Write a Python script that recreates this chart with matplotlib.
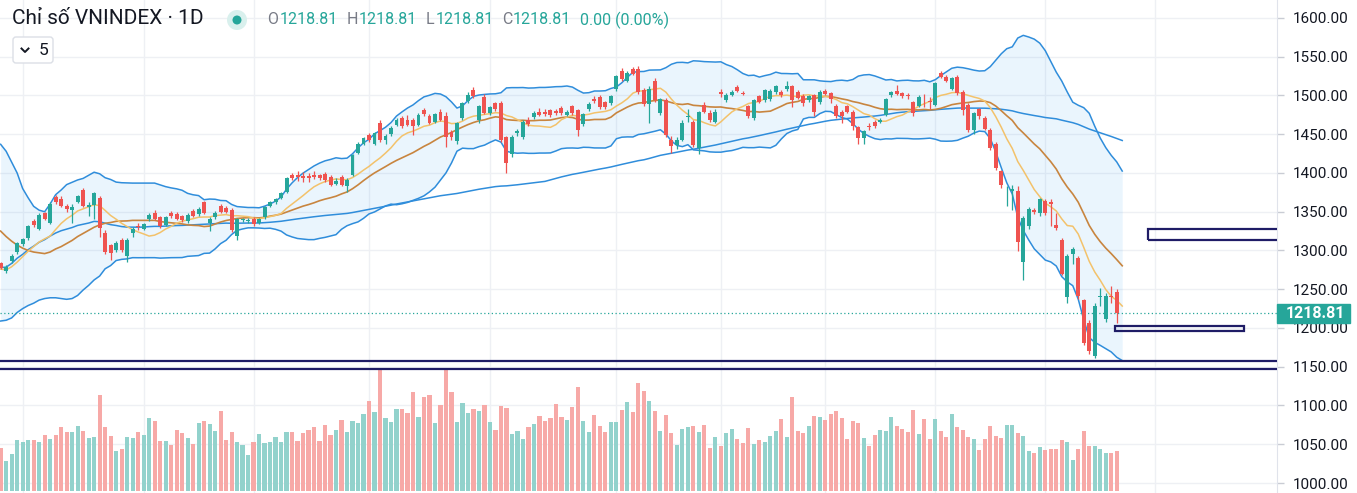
import numpy as np
import pandas as pd
import matplotlib
matplotlib.use("Agg")
import matplotlib.pyplot as plt
from matplotlib.patches import Rectangle, FancyBboxPatch, Circle
from matplotlib.lines import Line2D
from matplotlib.transforms import blended_transform_factory, IdentityTransform

plt.rcParams['font.family'] = ['Roboto', 'DejaVu Sans']

# ---------------- data (daily OHLC, index = trading day) ----------------
opens = [1284, 1273, 1286, 1298, 1308, 1316, 1338, 1328, 1348, 1336,
         1369, 1367, 1357, 1352, 1363, 1378, 1356, 1359, 1368, 1323,
         1307, 1301, 1314, 1293, 1322, 1332, 1328, 1340, 1348, 1343,
         1333, 1349, 1347, 1344, 1338, 1351, 1347, 1362, 1336, 1343,
         1358, 1355, 1352, 1319, 1339, 1338, 1340, 1336, 1343, 1358,
         1362, 1368, 1376, 1397, 1397, 1396, 1396, 1397, 1397, 1399,
         1395, 1386, 1395, 1383, 1398, 1426, 1438, 1449, 1438, 1464,
         1442, 1450, 1462, 1471, 1469, 1468, 1462, 1481, 1474, 1466,
         1479, 1474, 1453, 1441, 1471, 1493, 1507, 1468, 1498, 1477,
         1490, 1490, 1446, 1425, 1452, 1446, 1469, 1472, 1479, 1479,
         1481, 1480, 1484, 1475, 1486, 1481, 1463, 1482, 1495, 1498,
         1491, 1490, 1508, 1532, 1519, 1534, 1534, 1507, 1489, 1519,
         1477, 1494, 1443, 1436, 1443, 1472, 1466, 1432, 1488, 1478,
         1466, 1504, 1494, 1501, 1511, 1503.5, 1486, 1471, 1499, 1494,
         1495, 1504, 1505, 1508, 1512, 1505, 1499, 1494, 1500, 1491,
         1506, 1503, 1487, 1479, 1486, 1479, 1459, 1445, 1460, 1466,
         1466, 1475, 1500, 1506, 1503, 1500, 1491, 1487, 1492, 1493,
         1488, 1529, 1524, 1509, 1524, 1505, 1488, 1456, 1482, 1471,
         1456, 1438, 1402, 1371, 1377, 1377, 1285, 1331, 1352, 1348,
         1364, 1362, 1333, 1314, 1240, 1296, 1290, 1236, 1207, 1164,
         1240, 1211, 1241.5, 1247, 1218.81]
highs = [1285, 1281, 1295, 1311, 1316, 1333, 1341, 1348, 1350, 1362,
         1372, 1370, 1360, 1360, 1372, 1381, 1363, 1376, 1370, 1326,
         1309, 1312, 1316, 1316, 1330, 1336, 1336, 1348, 1352, 1345,
         1345, 1351, 1350, 1346, 1348, 1354, 1356, 1364, 1343, 1351,
         1360, 1357, 1355, 1342, 1342, 1342, 1343, 1342, 1358, 1364,
         1368, 1376, 1395, 1400, 1403, 1401, 1400, 1403, 1399, 1401,
         1398, 1393, 1397, 1393, 1425, 1440, 1447, 1452, 1453, 1468,
         1450, 1460, 1471, 1474, 1475, 1471, 1477, 1484, 1476, 1478,
         1482, 1479, 1455, 1466, 1492, 1504, 1511, 1488, 1502, 1487,
         1492, 1493, 1448, 1449, 1457, 1468, 1472, 1480, 1484, 1482,
         1483, 1483, 1486, 1481, 1488, 1483, 1478, 1491, 1499, 1500,
         1493, 1501, 1527, 1535, 1531, 1537, 1538, 1510, 1512, 1523,
         1497, 1497, 1448, 1446, 1468, 1482, 1468, 1480, 1492, 1481,
         1482, 1508, 1503, 1507, 1513, 1506, 1488, 1496, 1501, 1509,
         1508, 1514, 1507, 1519, 1514, 1507, 1502, 1501, 1502, 1507,
         1509, 1505, 1489, 1481, 1488, 1481, 1461, 1456, 1464, 1468,
         1471, 1497, 1506, 1514, 1505, 1503, 1493, 1500, 1502, 1498,
         1518, 1532, 1526, 1524, 1526, 1507, 1490, 1479, 1484, 1473,
         1458, 1440, 1404, 1383, 1385, 1383, 1345, 1356, 1355, 1368,
         1366, 1366, 1348, 1316, 1296, 1305, 1293, 1238, 1210, 1232,
         1251, 1245, 1254, 1250, 1218.81]
lows = [1276, 1271, 1284, 1296, 1306, 1314, 1330, 1326, 1339, 1334,
        1360, 1356, 1350, 1336, 1361, 1356, 1345, 1340, 1318, 1295,
        1288, 1298, 1298, 1285, 1318, 1326, 1326, 1338, 1339, 1329,
        1331, 1342, 1339, 1337, 1336, 1343, 1345, 1347, 1325, 1341,
        1348, 1348, 1324, 1313, 1337, 1335, 1332, 1334, 1341, 1356,
        1360, 1366, 1374, 1391, 1390, 1389, 1388, 1392, 1391, 1389,
        1383, 1384, 1383, 1375, 1396, 1424, 1436, 1440, 1436, 1440,
        1438, 1448, 1460, 1458, 1460, 1449, 1460, 1474, 1463, 1464,
        1467, 1434, 1443, 1437, 1469, 1490, 1497, 1465, 1476, 1475,
        1480, 1440, 1400, 1420, 1448, 1444, 1460, 1470, 1473, 1473,
        1472, 1475, 1475, 1473, 1475, 1448, 1460, 1480, 1490, 1483,
        1483, 1488, 1506, 1519, 1517, 1526, 1502, 1487, 1464, 1492,
        1475, 1446, 1426, 1431, 1441, 1466, 1434, 1425, 1477, 1466,
        1464, 1498, 1492, 1499, 1504, 1500, 1471, 1469, 1490, 1492,
        1493, 1502, 1498, 1506, 1485, 1495, 1487, 1492, 1474, 1489,
        1500, 1490, 1471, 1465, 1477, 1455, 1438, 1438, 1455, 1458,
        1464, 1473, 1498, 1500, 1497, 1496, 1473, 1485, 1485, 1483,
        1486, 1522, 1517, 1507, 1500, 1475, 1453, 1450, 1470, 1455,
        1430, 1404, 1381, 1357, 1352, 1299, 1262, 1328, 1347, 1345,
        1346, 1331, 1326, 1268, 1232, 1283, 1238, 1178, 1166, 1161,
        1228, 1208, 1232, 1207, 1218.81]
closes = [1278, 1279, 1293, 1310, 1315, 1331, 1333, 1346, 1341, 1360,
          1362, 1358, 1353, 1356, 1370, 1358, 1359, 1374, 1329, 1298,
          1297, 1310, 1300, 1314, 1328, 1330, 1334, 1346, 1341, 1331,
          1343, 1344, 1341, 1339, 1346, 1345, 1353, 1349, 1341, 1349,
          1350, 1350, 1326, 1340, 1340, 1339, 1334, 1340, 1356, 1362,
          1366, 1374, 1393, 1394, 1395, 1394, 1393, 1395, 1394, 1391,
          1385, 1390, 1385, 1391, 1423, 1438, 1445, 1443, 1451, 1443,
          1448, 1458, 1469, 1460, 1462, 1461, 1475, 1476, 1465, 1476,
          1469, 1447, 1446, 1464, 1490, 1501, 1499, 1486, 1478, 1485,
          1482, 1443, 1413, 1446, 1454, 1466, 1463, 1478, 1475, 1476,
          1475, 1478, 1477, 1479, 1477, 1456, 1476, 1489, 1493, 1485,
          1485, 1499, 1525, 1521, 1529, 1528, 1504, 1489, 1509, 1494,
          1495, 1449, 1435, 1443, 1464, 1474, 1436, 1479, 1479, 1469,
          1479, 1502, 1501, 1505, 1506, 1502.5, 1473, 1494, 1492, 1507,
          1506, 1512, 1500, 1512, 1494, 1497, 1490, 1499, 1479, 1505,
          1502, 1495, 1474, 1473, 1479, 1460, 1445, 1454, 1459, 1460,
          1469, 1495, 1504, 1502, 1499, 1499, 1477, 1498, 1491, 1491,
          1516, 1524, 1519, 1522, 1503, 1481, 1456, 1477, 1473, 1457,
          1432, 1406, 1384, 1372, 1379, 1311, 1342, 1353, 1350, 1366,
          1348, 1360, 1329, 1270, 1293, 1302, 1241, 1181, 1170, 1229,
          1241, 1241, 1240.5, 1218.81, 1218.81]
volumes = [427, 300, 367, 510, 483, 510, 510, 483, 560, 517,
           560, 633, 590, 590, 650, 600, 527, 540, 960, 633,
           550, 400, 413, 540, 527, 583, 560, 727, 700, 493,
           493, 460, 610, 573, 527, 467, 673, 700, 667, 600,
           793, 510, 590, 483, 460, 357, 490, 567, 473, 490,
           540, 490, 590, 583, 500, 573, 610, 633, 500, 660,
           560, 610, 707, 583, 700, 680, 767, 893, 787, 1207,
           727, 690, 817, 817, 777, 990, 740, 940, 953, 680,
           860, 1217, 990, 690, 880, 777, 817, 800, 860, 690,
           610, 850, 830, 567, 600, 520, 640, 667, 750, 700,
           727, 867, 740, 707, 840, 1033, 700, 590, 760, 650,
           590, 690, 690, 810, 890, 783, 1080, 1000, 900, 800,
           600, 760, 573, 460, 617, 640, 650, 583, 660, 427,
           537, 450, 573, 617, 520, 473, 623, 467, 510, 483,
           543, 600, 717, 537, 933, 600, 573, 650, 750, 740,
           707, 767, 800, 727, 517, 700, 673, 527, 450, 560,
           610, 593, 740, 650, 617, 590, 810, 567, 720, 517,
           720, 600, 540, 770, 633, 607, 540, 517, 410, 517,
           650, 550, 530, 660, 657, 573, 550, 400, 377, 433,
           410, 417, 417, 510, 490, 310, 417, 600, 450, 450,
           417, 377, 377, 400, 0]

# indicator values at the left edge (before enough history)
ma10_head = [1276, 1275, 1279, 1285, 1292, 1299, 1305, 1311, 1315]
ma20_head = [1325, 1318, 1312, 1307, 1303, 1300, 1298, 1297, 1296, 1298,
             1302, 1305, 1309, 1313, 1318, 1322, 1326, 1330, 1333]
bb_up_head = [1437, 1428, 1414, 1400, 1380, 1368, 1357, 1352, 1350, 1360,
              1372, 1378, 1385, 1388, 1391, 1393, 1397, 1401, 1399]
bb_lo_head = [1209, 1210, 1213, 1220, 1225, 1229, 1232, 1236, 1238, 1239,
              1239, 1238, 1237, 1238, 1242, 1249, 1255, 1262, 1267]

price_ticks = [1000, 1050, 1100, 1150, 1200, 1250, 1300, 1350,
               1400, 1450, 1500, 1550, 1600]
month_start_idx = [4, 26, 46, 67, 89, 112, 131, 150, 170, 190, 210]
support_lines = [1157.2, 1147.6]
zone_a = [208.7, 1314.0, 1327.5]          # left index, bottom, top (open right)
zone_b = [202.7, 226.1, 1195.5, 1203.2]   # left, right, bottom, top
last_price = 1218.81

# ---------------- styling ----------------
GREEN = '#26a69a'
RED = '#ef5350'
VGREEN = '#92d2cc'
VRED = '#f7a9a7'
BLUE = '#2f8ddb'
BROWN = '#c8853f'
YELLOW = '#f3c26b'
NAVY = '#1f1c66'
GRID = '#eef0f4'
TEXT = '#131722'

o = np.array(opens, float); h = np.array(highs, float)
l = np.array(lows, float); c = np.array(closes, float)
v = np.array(volumes, float)
N = len(c)
x = np.arange(N)

cs = pd.Series(c)
ma10 = cs.rolling(10).mean().to_numpy()
ma10[:len(ma10_head)] = ma10_head
ma20 = cs.rolling(20).mean().to_numpy()
sd20 = cs.rolling(20).std(ddof=0).to_numpy()
bb_up = ma20 + 2 * sd20
bb_lo = ma20 - 2 * sd20
ma20[:len(ma20_head)] = ma20_head
bb_up[:len(bb_up_head)] = bb_up_head
bb_lo[:len(bb_lo_head)] = bb_lo_head
ma100 = cs.rolling(100, min_periods=1).mean().to_numpy()

W, H = 1357, 493
fig = plt.figure(figsize=(W / 100, H / 100), dpi=100)
fig.patch.set_facecolor('white')
PR = 1277
ax = fig.add_axes([0, 0, PR / W, 1])
ax.set_xlim(-0.118, 232.15)
ax.set_ylim(987.1, 1623.2)

# volume (overlay axis, drawn underneath the price layer) + grid
axv = ax.twinx()
axv.set_ylim(-25, 4905)
axv.set_yticks([])
for s in axv.spines.values():
    s.set_visible(False)
ax.set_zorder(2)
axv.set_zorder(1)
ax.patch.set_visible(False)
axv.patch.set_visible(True)
axv.patch.set_facecolor('white')
gtr = blended_transform_factory(axv.transAxes, ax.transData)
for t in price_ticks:
    axv.add_line(Line2D([0, 1], [t, t], transform=gtr, color=GRID, lw=1.0,
                        zorder=0))
for m in month_start_idx:
    axv.axvline(m, color=GRID, lw=1.0, zorder=0)
axv.bar(x, v, width=0.75, color=np.where(c >= o, VGREEN, VRED), lw=0, zorder=1)

# right price scale
ax.set_yticks(price_ticks)
ax.set_yticklabels([f'{t:.2f}' for t in price_ticks])
ax.set_xticks([])
ax.yaxis.tick_right()
ax.yaxis.set_label_position('right')
ax.tick_params(axis='y', left=False, labelleft=False, right=True, labelright=True,
               length=5, width=1, color='#c9ccd4', labelcolor=TEXT,
               labelsize=11, pad=6)
for s in ['top', 'left', 'bottom']:
    ax.spines[s].set_visible(False)
ax.spines['right'].set_color('#e0e3eb')

# Bollinger band + MAs
ax.fill_between(x, bb_lo, bb_up, color='#2196f3', alpha=0.09, lw=0, zorder=1)
ax.plot(x, bb_up, color=BLUE, lw=1.1, zorder=2)
ax.plot(x, bb_lo, color=BLUE, lw=1.1, zorder=2)
ax.plot(x, ma100, color=BLUE, lw=1.1, zorder=2)
ax.plot(x, ma20, color=BROWN, lw=1.2, zorder=2)
ax.plot(x, ma10, color=YELLOW, lw=1.1, zorder=2)

# candles
up = c >= o
col = np.where(up, GREEN, RED)
ax.vlines(x, l, h, colors=col, lw=0.9, zorder=4)
body_bot = np.minimum(o, c)
body_h = np.maximum(np.abs(c - o), 1.0)
ax.bar(x, body_h, bottom=body_bot, width=0.72, color=col, lw=0, zorder=5)

# last price dotted line
ax.axhline(last_price, color=GREEN, lw=0.9, ls=(0, (1, 2)), zorder=3)

# support lines and zones
for p in support_lines:
    ax.axhline(p, color=NAVY, lw=1.6, zorder=6)
ax.add_patch(Rectangle((zone_a[0], zone_a[1]), 60, zone_a[2] - zone_a[1],
                       fill=False, ec=NAVY, lw=1.6, zorder=6))
ax.add_patch(Rectangle((zone_b[0], zone_b[2]), zone_b[1] - zone_b[0],
                       zone_b[3] - zone_b[2], fill=False, ec=NAVY, lw=1.6, zorder=6))

# price label on the axis
tr = blended_transform_factory(ax.transAxes, ax.transData)
ax.add_patch(Rectangle((1.0, last_price - 12.3), 73 / PR, 24.6, transform=tr,
                       fc=GREEN, ec=GREEN, clip_on=False, zorder=20))
ax.text(1.0 + 9 / PR, last_price, f'{last_price:.2f}', transform=tr,
        color='white', fontsize=11.5, fontweight='bold', va='center',
        ha='left', clip_on=False, zorder=21)

# header
def fx(px):
    return px / W

def fy(py):
    return 1 - py / H

fig.text(fx(12), fy(19), 'Chỉ số VNINDEX · 1D', fontsize=15, color=TEXT,
         va='center', ha='left', zorder=12)
fig.add_artist(Circle((237, H - 20), 10, transform=IdentityTransform(),
                      fc='#d9f0ed', ec='none', zorder=11))
fig.add_artist(Circle((237, H - 20), 4.5, transform=IdentityTransform(),
                      fc=GREEN, ec='none', zorder=12))
pieces = [('O', 267, '#787b86'), ('1218.81', 280, GREEN),
          ('H', 347, '#787b86'), ('1218.81', 359, GREEN),
          ('L', 426, '#787b86'), ('1218.81', 436, GREEN),
          ('C', 502, '#787b86'), ('1218.81', 513, GREEN),
          ('0.00 (0.00%)', 580, GREEN)]
for s, px, cc in pieces:
    fig.text(fx(px), fy(20), s, fontsize=11.5, color=cc, va='center',
             ha='left', zorder=12)

fig.add_artist(FancyBboxPatch((13, H - 63), 40, 26,
                              boxstyle='round,pad=0,rounding_size=3',
                              transform=IdentityTransform(), fc='white',
                              ec='#dcdfe6', lw=1, zorder=11))
fig.add_artist(Line2D([21.5, 25, 28.5], [H - 48.5, H - 52, H - 48.5],
                      transform=IdentityTransform(), color=TEXT, lw=1.4,
                      zorder=12))
fig.text(fx(38.5), fy(50.5), '5', fontsize=12.5, color=TEXT, va='center',
         ha='left', zorder=12)

fig.savefig('out.png', dpi=100, facecolor='white')
